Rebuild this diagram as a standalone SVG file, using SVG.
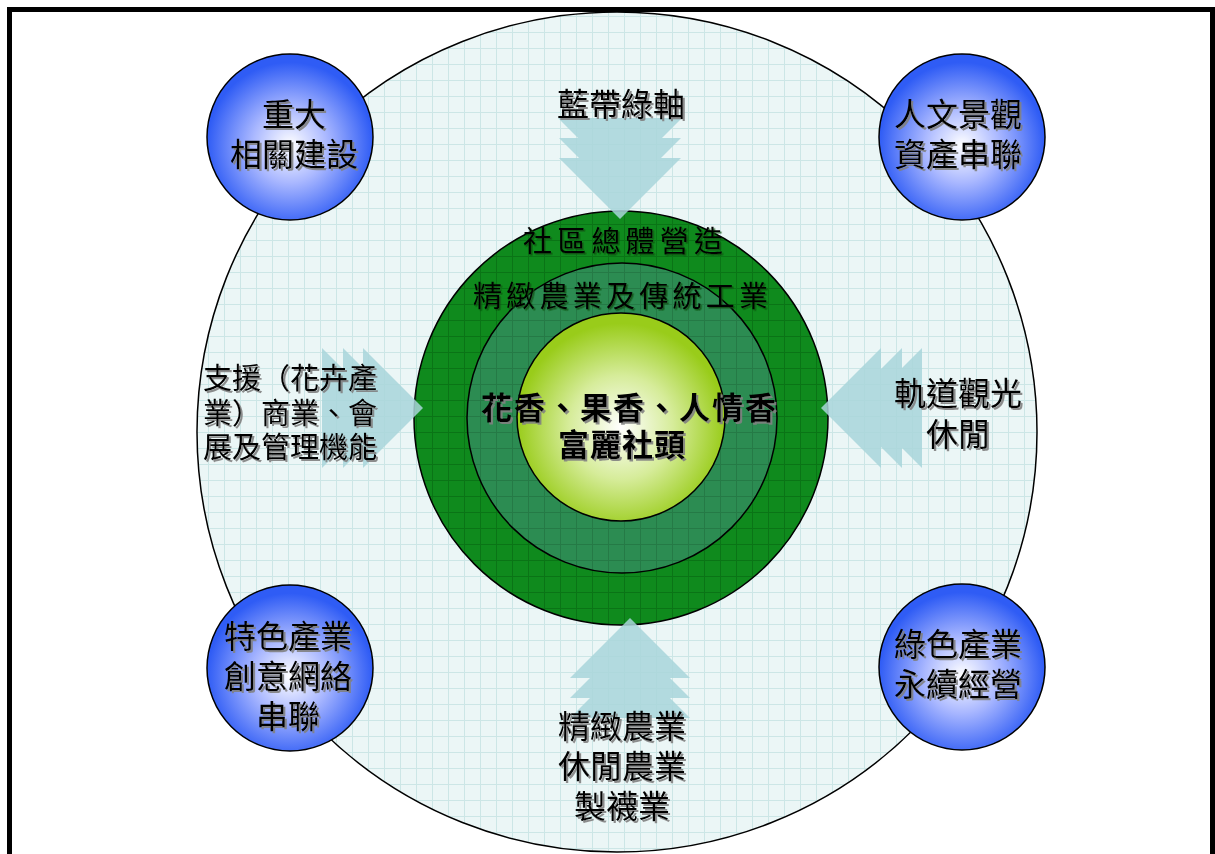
<svg xmlns="http://www.w3.org/2000/svg" width="1215" height="854" viewBox="0 0 1215 854">
<style>
.lbl{font-family:"Liberation Sans","Noto Sans CJK TC","Noto Sans CJK SC",sans-serif;font-size:32px;fill:#000;text-anchor:middle;filter:url(#sh)}
.lft{font-family:"Liberation Sans","Noto Sans CJK TC","Noto Sans CJK SC",sans-serif;font-size:29px;fill:#000;filter:url(#sh)}
.ring{font-family:"Liberation Serif","Noto Sans CJK TC","Noto Sans CJK SC",serif;font-size:29px;fill:#000;filter:url(#sh2)}
.core{font-family:"Liberation Sans","Noto Sans CJK TC","Noto Sans CJK SC",sans-serif;font-size:31px;font-weight:bold;fill:#000;filter:url(#sh)}
.blue{fill:url(#gBlue);stroke:#000;stroke-width:1.5}
.arr{fill:#a9d6db}
</style>
<defs>
<pattern id="grid" width="16" height="16" patternUnits="userSpaceOnUse">
<rect width="16" height="16" fill="#ebf6f6"/>
<path d="M0 0.5H16M0.5 0V16" stroke="#cce6e6" stroke-width="1" fill="none"/>
</pattern>
<pattern id="gridG" width="16" height="16" patternUnits="userSpaceOnUse">
<rect width="16" height="16" fill="#0f8a1d"/>
<path d="M0 0.5H16M0.5 0V16" stroke="#0a7416" stroke-width="1" fill="none"/>
</pattern>
<pattern id="gridM" width="16" height="16" patternUnits="userSpaceOnUse">
<rect width="16" height="16" fill="#2c8c52"/>
<path d="M0 0.5H16M0.5 0V16" stroke="#257a46" stroke-width="1" fill="none"/>
</pattern>
<radialGradient id="gBlue" cx="0.5" cy="0.55" r="0.5">
<stop offset="0" stop-color="#ffffff"/>
<stop offset="0.45" stop-color="#aab8ff"/>
<stop offset="1" stop-color="#2f5cf5"/>
</radialGradient>
<radialGradient id="gCore" cx="0.5" cy="0.55" r="0.5">
<stop offset="0" stop-color="#ffffff"/>
<stop offset="0.5" stop-color="#d6ec9a"/>
<stop offset="1" stop-color="#99cc1a"/>
</radialGradient>
<filter id="sh" x="-10%" y="-20%" width="130%" height="150%">
<feDropShadow dx="2" dy="2" stdDeviation="0.6" flood-color="#808080" flood-opacity="0.9"/>
</filter>
<filter id="sh2" x="-10%" y="-20%" width="130%" height="150%">
<feDropShadow dx="1.5" dy="1.5" stdDeviation="0.5" flood-color="#0a4a10" flood-opacity="0.8"/>
</filter>
</defs>
<rect width="1215" height="854" fill="#fff"/>
<rect x="9.5" y="9.5" width="1203" height="870" fill="none" stroke="#000" stroke-width="5"/>

<g id="outer">
<circle cx="617" cy="432" r="420" fill="url(#grid)" stroke="#000" stroke-width="1.5"/>
</g>
<g id="ring-community">
<circle cx="621" cy="418" r="207" fill="url(#gridG)" stroke="#000" stroke-width="1.5"/>
</g>
<g id="ring-agri">
<circle cx="622" cy="418" r="155" fill="url(#gridM)" stroke="#000" stroke-width="1.5"/>
</g>
<g id="core">
<circle cx="621" cy="417" r="104" fill="url(#gCore)" stroke="#000" stroke-width="1.5"/>
</g>

<g id="connectors" opacity="0.85">
<g id="arrow-top" class="arr">
<polygon points="558,118 682,118 620,180"/>
<polygon points="559,138 681,138 620,199"/>
<polygon points="559,158 681,158 620,219"/>
</g>
<g id="arrow-left" class="arr">
<polygon points="322,348 322,468 382,408"/>
<polygon points="343,348 343,468 403,408"/>
<polygon points="363,348 363,468 423,408"/>
</g>
<g id="arrow-right" class="arr">
<polygon points="922,348 922,468 862,408"/>
<polygon points="902,348 902,468 842,408"/>
<polygon points="881,348 881,468 821,408"/>
</g>
<g id="arrow-bottom" class="arr">
<polygon points="570,678 690,678 630,618"/>
<polygon points="570,698 690,698 630,638"/>
<polygon points="570,718 690,718 630,658"/>
</g>
</g>

<g id="n-topleft">
<circle class="blue" cx="290" cy="137" r="83"/>
<text class="lbl" x="294" y="126">重大</text>
<text class="lbl" x="294" y="166">相關建設</text>
</g>
<g id="n-topright">
<circle class="blue" cx="962" cy="137" r="83"/>
<text class="lbl" x="958" y="126">人文景觀</text>
<text class="lbl" x="958" y="166">資產串聯</text>
</g>
<g id="n-bottomleft">
<circle class="blue" cx="290" cy="668" r="83"/>
<text class="lbl" x="288" y="648">特色產業</text>
<text class="lbl" x="288" y="688">創意網絡</text>
<text class="lbl" x="288" y="728">串聯</text>
</g>
<g id="n-bottomright">
<circle class="blue" cx="962" cy="667" r="83"/>
<text class="lbl" x="958" y="656">綠色產業</text>
<text class="lbl" x="958" y="696">永續經營</text>
</g>

<g id="t-top">
<text class="lbl" x="621" y="116">藍帶綠軸</text>
</g>
<g id="t-left">
<text class="lft" x="203" y="389">支援（花卉產</text>
<text class="lft" x="203" y="424">業）商業、會</text>
<text class="lft" x="203" y="458">展及管理機能</text>
</g>
<g id="t-right">
<text class="lbl" x="958" y="405">軌道觀光</text>
<text class="lbl" x="958" y="446">休閒</text>
</g>
<g id="t-bottom">
<text class="lbl" x="622" y="738">精緻農業</text>
<text class="lbl" x="622" y="778">休閒農業</text>
<text class="lbl" x="622" y="818">製襪業</text>
</g>

<g id="t-rings">
<text class="ring" x="523" y="252" textLength="200" lengthAdjust="spacing">社區總體營造</text>
<text class="ring" x="473" y="307" textLength="295" lengthAdjust="spacing">精緻農業及傳統工業</text>
<text class="core" x="481" y="419" textLength="295" lengthAdjust="spacing">花香、果香、人情香</text>
<text class="core" x="558" y="456" textLength="127" lengthAdjust="spacing">富麗社頭</text>
</g>
</svg>
